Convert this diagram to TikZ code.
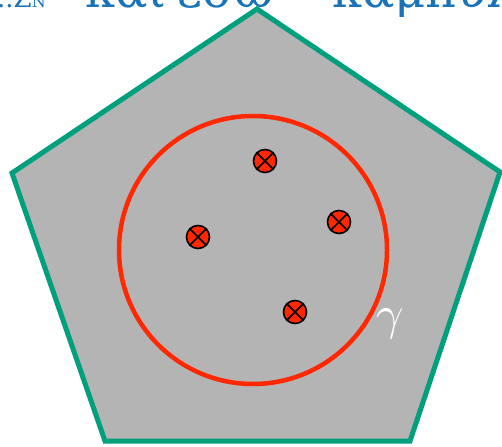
\documentclass[tikz,border=0pt]{standalone}
\usepackage{fontspec}
\usepackage{graphicx}
\newfontfamily\grk{DejaVu Serif}
\definecolor{pentgreen}{RGB}{0,160,125}
\definecolor{pentfill}{RGB}{180,180,180}
\definecolor{ringred}{RGB}{255,40,0}
\definecolor{titleblue}{RGB}{25,115,185}
\tikzset{
  pent/.style={draw=pentgreen, fill=pentfill, line width=5pt, line join=miter},
  ring/.style={draw=ringred, line width=4.5pt},
  charge/.style={circle, draw=black, fill=ringred, line width=1.6pt, minimum size=23pt, inner sep=0pt},
  cross/.style={draw=black, line width=1.6pt},
  title/.style={text=titleblue, anchor=base west, inner sep=0pt, font=\grk\fontsize{48}{56}\selectfont},
}
\begin{document}
\begin{tikzpicture}[x=1pt,y=-1pt]
\useasboundingbox (0,0) rectangle (502,446);
\clip (0,0) rectangle (502,446);
% title line, clipped at top
\node[title, font=\grk\fontsize{26}{30}\selectfont] (t0) at (-3,8) {..Z\fontsize{16}{18}\selectfont N};
\node[title] (t1) at (85,8) {και};
\node[title] (t2) at (177,8) {έσω};
\node[title] (t3) at (332,8) {καμπύλη};
% pentagon
\coordinate (p1) at (257,9);
\coordinate (p2) at (500,172);
\coordinate (p3) at (410,441);
\coordinate (p4) at (105,441);
\coordinate (p5) at (12,173);
\draw[pent] (p1) -- (p2) -- (p3) -- (p4) -- (p5) -- cycle;
% curve gamma
\coordinate (c) at (253,250);
\draw[ring] (c) circle[radius=134];
\node[text=white, inner sep=0pt] (g) at (390,324) {\scalebox{4.8}{$\gamma$}};
% charges
\foreach \n/\x/\y in {q1/265/161, q2/339/222, q3/198/237, q4/295/312}{
  \node[charge] (\n) at (\x,\y) {};
  \draw[cross] (\n.north east) -- (\n.south west);
  \draw[cross] (\n.north west) -- (\n.south east);
}
\end{tikzpicture}
\end{document}
